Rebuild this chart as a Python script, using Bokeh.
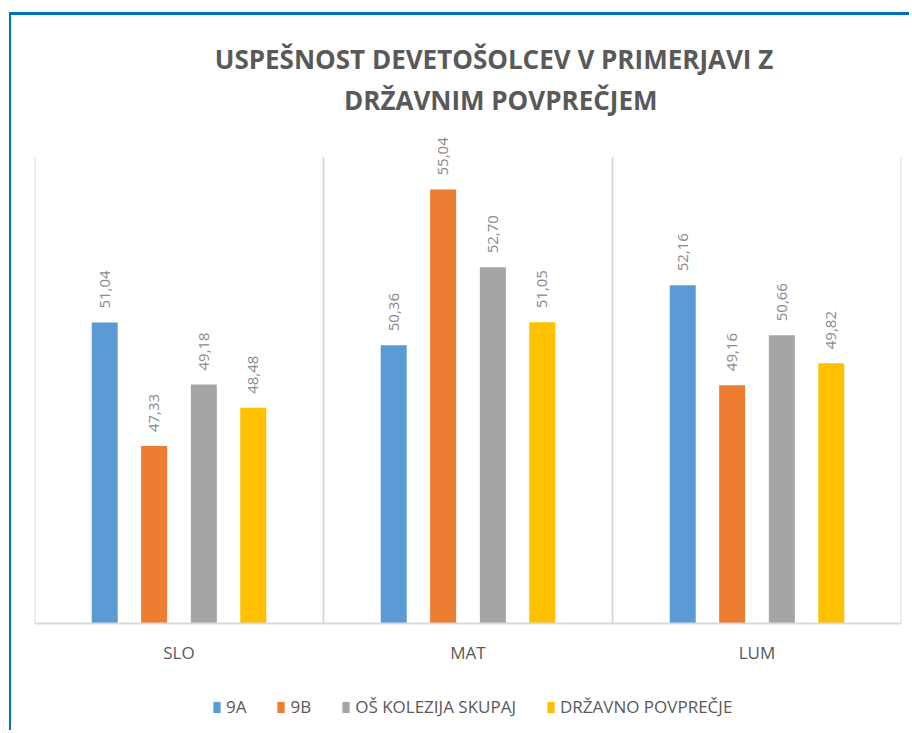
import math
from bokeh.plotting import figure
from bokeh.models import ColumnDataSource, Span, Legend, LegendItem, Range1d
from bokeh.transform import dodge
from bokeh.core.properties import value
from bokeh.embed import file_html
from bokeh.resources import INLINE

# ---- data ----
subjects = ["SLO", "MAT", "LUM"]
series_names = ["9A", "9B", "OŠ KOLEZIJA SKUPAJ", "DRŽAVNO POVPREČJE"]
v_9a = [51.04, 50.36, 52.16]
v_9b = [47.33, 55.04, 49.16]
v_os = [49.18, 52.70, 50.66]
v_drz = [48.48, 51.05, 49.82]
series_values = [v_9a, v_9b, v_os, v_drz]
colors = ["#5B9BD5", "#ED7D31", "#A5A5A5", "#FFC000"]
title_lines = ["USPEŠNOST  DEVETOŠOLCEV  V PRIMERJAVI  Z", "DRŽAVNIM  POVPREČJEM"]
y_min, y_max = 42, 56

# ---- layout geometry (pixels) ----
W, H = 900, 718
frame_top_to_max = 142      # px from canvas top to value y_max
frame_top_to_base = 608     # px from canvas top to value y_min
ppu = (frame_top_to_base - frame_top_to_max) / (y_max - y_min)
y_lo = y_min - (H - frame_top_to_base) / ppu
y_hi = y_max + frame_top_to_max / ppu

offsets = [-0.257, -0.086, 0.086, 0.257]
bar_w = 0.09

p = figure(
    x_range=subjects, y_range=Range1d(y_lo, y_hi),
    width=W, height=H, output_backend="svg", toolbar_location=None,
    x_axis_location=None, y_axis_location=None,
    min_border_left=23, min_border_right=10, min_border_top=0, min_border_bottom=0,
    background_fill_color="white", border_fill_color="white",
)
p.outline_line_color = None
p.grid.grid_line_color = None

# category separators and baseline
bounds = [0, 1, 2, 3]
p.segment(x0=bounds, x1=bounds, y0=[y_min] * 4, y1=[y_max] * 4,
          line_color="#d9d9d9", line_width=2)
p.add_layout(Span(location=y_min, dimension="width", line_color="#d9d9d9", line_width=2))

items = []
for name, vals, col, off in zip(series_names, series_values, colors, offsets):
    src = ColumnDataSource(dict(
        subject=subjects, val=vals,
        lbl=[f"{v:.2f}".replace(".", ",") for v in vals],
    ))
    r = p.vbar(x=dodge("subject", off, range=p.x_range), top="val", bottom=y_min,
               width=bar_w, source=src, fill_color=col, line_color=None)
    p.text(x=dodge("subject", off, range=p.x_range), y="val", text="lbl", source=src,
           angle=math.pi / 2, text_align="left", text_baseline="middle",
           y_offset=-14, text_font_size=value("15px"), text_color="#8a8a8a",
           text_font=value("Open Sans"))
    items.append(LegendItem(label=name, renderers=[r]))

# category labels
p.text(x=subjects, y=[y_min] * 3, text=subjects, y_offset=29,
       text_align="center", text_baseline="middle", text_font_size=value("17px"),
       text_color="#595959", text_font=value("Open Sans"))

# title (two centred lines)
title_x = 1.625
p.text(x=[title_x, title_x],
       y=[y_hi - 43 / ppu, y_hi - 84 / ppu],
       text=title_lines, text_align="center", text_baseline="middle",
       text_font_size=value("26px"), text_font_style="bold",
       text_color="#595959", text_font=value("Open Sans"))

legend = Legend(items=items, orientation="horizontal", location=(178, 15),
                label_text_font="Open Sans", label_text_font_size="17px",
                label_text_color="#595959", glyph_width=9, glyph_height=14,
                spacing=30, label_standoff=5, border_line_color=None,
                background_fill_alpha=0, margin=0, padding=4)
p.add_layout(legend)

p.styles = {"margin-left": "9px", "margin-top": "12px",
            "border-top": "3px solid #0070C0", "border-left": "2px solid #0070C0"}

open("out.html", "w").write(file_html(p, INLINE))
